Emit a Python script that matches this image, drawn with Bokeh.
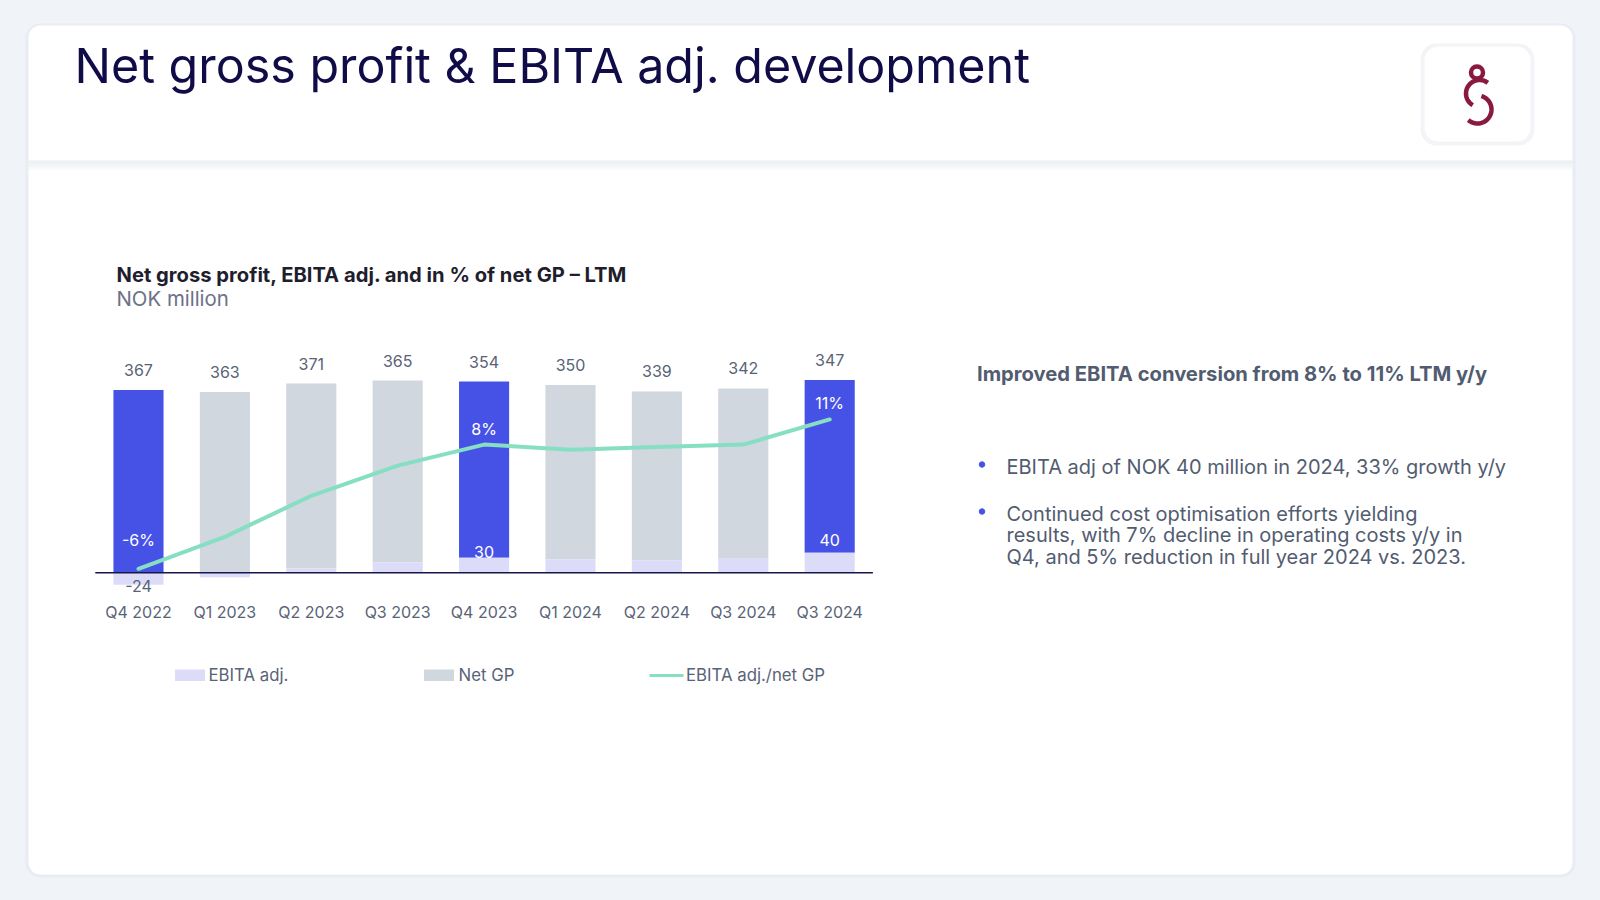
import numpy as np
from bokeh.plotting import figure
from bokeh.models import Range1d, BoxAnnotation
from bokeh.core.properties import value
from bokeh.embed import file_html
from bokeh.resources import INLINE

# ---------------- data ----------------
categories = ["Q4 2022", "Q1 2023", "Q2 2023", "Q3 2023", "Q4 2023",
              "Q1 2024", "Q2 2024", "Q3 2024", "Q3 2024"]
net_gp = [367, 363, 371, 365, 354, 350, 339, 342, 347]
ebita_adj = [-24, -9, 9, 21, 30, 27, 25, 28, 40]
ebita_margin = [-6.4, -2.6, 2.3, 5.9, 8.4, 7.8, 8.1, 8.4, 11.4]
highlight = [True, False, False, False, True, False, False, False, True]
margin_labels = ["-6%", "", "", "", "8%", "", "", "", "11%"]
ebita_labels = ["-24", "", "", "", "30", "", "", "", "40"]

legend_names = ["EBITA adj.", "Net GP", "EBITA adj./net GP"]

title = "Net gross profit & EBITA adj. development"
chart_title = "Net gross profit, EBITA adj. and in % of net GP \u2013 LTM"
chart_unit = "NOK million"
side_heading = "Improved EBITA conversion from 8% to 11% LTM y/y"
bullets = [
    ["EBITA adj of NOK 40 million in 2024, 33% growth y/y"],
    ["Continued cost optimisation efforts yielding",
     "results, with 7% decline in operating costs y/y in",
     "Q4, and 5% reduction in full year 2024 vs. 2023."],
]

# ---------------- style ----------------
FONT = value("Inter")
BG = "#f0f3f8"
BLUE = "#4652e6"
GRAY = "#d0d7df"
LAV = "#dcdcf9"
MINT = "#86dfc3"
NAVY = "#100c47"
LABEL = "#596377"
TEXT = "#525c70"
MAROON = "#8a1940"

p = figure(width=1584, height=884, output_backend="svg", toolbar_location=None,
           x_range=Range1d(0, 1584), y_range=Range1d(884, 0),
           x_axis_type=None, y_axis_type=None, min_border=0,
           outline_line_color=None, background_fill_color=BG,
           border_fill_color=BG)

# chart scales (mapped so that the chart sits in its place on the page)
p.extra_x_ranges = {"q": Range1d(-1.597, 16.736)}
p.extra_y_ranges = {"v": Range1d(-626.1, 1149.2), "pct": Range1d(-44.03, 61.33)}

# ---------------- page decoration ----------------
def box(l, r, t, b, color, alpha=1.0, radius=0):
    bx = BoxAnnotation(left=l, right=r, top=t, bottom=b, fill_color=color,
                       fill_alpha=alpha, line_color=None, level="underlay",
                       border_radius=radius)
    p.add_layout(bx)

box(25, 1575, 23, 877, "#e6eaf1", 0.7, 15)
box(28, 1572, 25, 874, "white", 1.0, 12)
for i in range(10):
    box(28, 1572, 160 + i, 161 + i, "#d9dee6", 0.55 * (1 - i / 10.0))
# logo box
box(1420, 1534, 43, 145, "#e9ecf2", 0.6, 16)
box(1424, 1530, 46, 141, "white", 1.0, 14)

# logo
p.circle(x=[1476.5], y=[72], radius=6, fill_color=None, line_color=MAROON, line_width=4.5)
t1 = np.radians(np.linspace(52, 240, 40))
p.line(1479 + 13.5 * np.cos(t1), 93 - 13.5 * np.sin(t1), line_color=MAROON, line_width=4.5)
t2 = np.radians(np.linspace(74, -131, 40))
p.line(1477 + 14 * np.cos(t2), 109 - 14 * np.sin(t2), line_color=MAROON, line_width=4.5)

# titles
p.text(x=[74], y=[64.5], text=[title], text_font=FONT, text_font_size="48.4px",
       text_color=NAVY, text_baseline="middle", text_align="left")
p.text(x=[116], y=[274], text=[chart_title], text_font=FONT, text_font_size="20.2px",
       text_font_style="bold", text_color="#1e1e2d", text_baseline="middle")
p.text(x=[116], y=[298], text=[chart_unit], text_font=FONT, text_font_size="20.4px",
       text_color="#6c7287", text_baseline="middle")

# side text
p.text(x=[976.5], y=[373], text=[side_heading], text_font=FONT, text_font_size="20.2px",
       text_font_style="bold", text_color=TEXT, text_baseline="middle")
line_y = [[466], [513, 534.7, 556]]
for lines, ys in zip(bullets, line_y):
    p.scatter(x=[981.5], y=[ys[0] - 2], size=5.5, color=BLUE)
    p.text(x=[1006] * len(lines), y=ys, text=lines, text_font=FONT,
           text_font_size="20px", text_color=TEXT, text_baseline="middle")

# ---------------- chart ----------------
idx = np.arange(len(categories))
gp_bottom = np.maximum(np.array(ebita_adj), 0)
gp_top = gp_bottom + np.array(net_gp)
bar_colors = [BLUE if h else GRAY for h in highlight]

p.vbar(x=idx, bottom=gp_bottom, top=gp_top, width=0.58, fill_color=bar_colors,
       line_color=None, x_range_name="q", y_range_name="v")
p.vbar(x=idx, bottom=0, top=ebita_adj, width=0.58, fill_color=LAV,
       line_color=None, x_range_name="q", y_range_name="v")
p.segment(x0=[-0.5], x1=[len(categories) - 0.5], y0=[0], y1=[0], line_color="#17164a",
          line_width=1.5, x_range_name="q", y_range_name="v")
p.line(x=idx, y=ebita_margin, line_color=MINT, line_width=4, line_cap="round",
       line_join="round", x_range_name="q", y_range_name="pct")

# value labels
p.text(x=idx, y=gp_top, text=[str(v) for v in net_gp], text_font=FONT,
       text_font_size="16px", text_color=LABEL, text_align="center",
       text_baseline="middle", y_offset=-20, x_range_name="q", y_range_name="v")

hi = [i for i, h in enumerate(highlight) if h]
p.text(x=[idx[i] for i in hi], y=[ebita_margin[i] for i in hi],
       text=[margin_labels[i] for i in hi], text_font=FONT, text_font_size="16px",
       text_color="white", text_align="center", text_baseline="middle",
       y_offset=[-29, -16, -16], x_range_name="q", y_range_name="pct")

neg = [i for i in hi if ebita_adj[i] < 0]
pos = [i for i in hi if ebita_adj[i] >= 0]
p.text(x=[idx[i] for i in neg], y=[ebita_adj[i] for i in neg],
       text=[ebita_labels[i] for i in neg], text_font=FONT, text_font_size="16px",
       text_color=LABEL, text_align="center", text_baseline="middle",
       y_offset=1, x_range_name="q", y_range_name="v")
p.text(x=[idx[i] for i in pos], y=[ebita_adj[i] for i in pos],
       text=[ebita_labels[i] for i in pos], text_font=FONT, text_font_size="16px",
       text_color="white", text_align="center", text_baseline="bottom",
       y_offset=[0, -7], x_range_name="q", y_range_name="v")

# category labels
p.text(x=idx, y=[611.5] * len(categories), text=categories, text_font=FONT,
       text_font_size="16px", text_color=LABEL, text_align="center",
       text_baseline="middle", x_range_name="q")

# legend
lx = [174.5, 423.5]
for x0, c in zip(lx, [LAV, GRAY]):
    box(x0, x0 + 30, 669, 680.5, c)
p.segment(x0=[649], x1=[683], y0=[675], y1=[675], line_color=MINT, line_width=3)
p.text(x=[208, 458, 685.5], y=[674.5] * 3, text=legend_names, text_font=FONT,
       text_font_size="16.8px", text_color=LABEL, text_baseline="middle")

html = file_html(p, INLINE)
html = html.replace("</head>", "<style>html, body { background: #f0f3f8; }</style></head>", 1)
open("out.html", "w").write(html)
